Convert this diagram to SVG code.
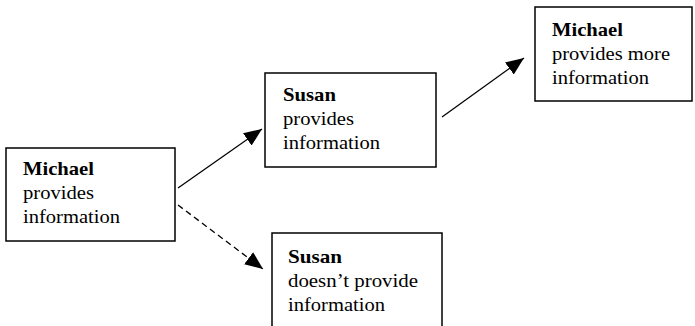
<svg xmlns="http://www.w3.org/2000/svg" width="695" height="326" viewBox="0 0 695 326">
<style>
.box{fill:#fff;stroke:#000;stroke-width:1.5}
.t{font-family:"Liberation Serif","Times New Roman",serif;font-size:19.5px;fill:#000}
.b{font-weight:bold}
.c{stroke:#000;stroke-width:1.3;fill:none}
.d{stroke-dasharray:6,4}
</style>
<defs>
<marker id="ah" markerUnits="userSpaceOnUse" markerWidth="20" markerHeight="16" refX="18" refY="7.5" orient="auto">
<path d="M0,0 L18,7.5 L0,15 Z" fill="#000"/>
</marker>
</defs>
<rect width="695" height="326" fill="#fff"/>
<g id="connectors">
<line class="c" x1="178" y1="188" x2="262" y2="129" marker-end="url(#ah)"/>
<line class="c" x1="442" y1="117" x2="524" y2="58" marker-end="url(#ah)"/>
<line class="c d" x1="178" y1="205" x2="263" y2="269" marker-end="url(#ah)"/>
</g>
<g id="n1">
<rect class="box" x="6" y="148" width="169" height="93"/>
<text class="t b" x="23" y="175" textLength="71" lengthAdjust="spacingAndGlyphs">Michael</text>
<text class="t" x="23" y="199" textLength="71" lengthAdjust="spacingAndGlyphs">provides</text>
<text class="t" x="23" y="223" textLength="97" lengthAdjust="spacingAndGlyphs">information</text>
</g>
<g id="n2">
<rect class="box" x="265" y="73" width="171" height="94"/>
<text class="t b" x="283" y="101" textLength="53" lengthAdjust="spacingAndGlyphs">Susan</text>
<text class="t" x="283" y="125" textLength="71" lengthAdjust="spacingAndGlyphs">provides</text>
<text class="t" x="283" y="149" textLength="97" lengthAdjust="spacingAndGlyphs">information</text>
</g>
<g id="n3">
<rect class="box" x="535" y="7" width="157" height="94"/>
<text class="t b" x="552" y="36" textLength="71" lengthAdjust="spacingAndGlyphs">Michael</text>
<text class="t" x="552" y="60" textLength="118" lengthAdjust="spacingAndGlyphs">provides more</text>
<text class="t" x="552" y="84" textLength="97" lengthAdjust="spacingAndGlyphs">information</text>
</g>
<g id="n4">
<rect class="box" x="272" y="233" width="170" height="110"/>
<text class="t b" x="288" y="263" textLength="54" lengthAdjust="spacingAndGlyphs">Susan</text>
<text class="t" x="288" y="287" textLength="130" lengthAdjust="spacingAndGlyphs">doesn’t provide</text>
<text class="t" x="288" y="311" textLength="97" lengthAdjust="spacingAndGlyphs">information</text>
</g>
</svg>
